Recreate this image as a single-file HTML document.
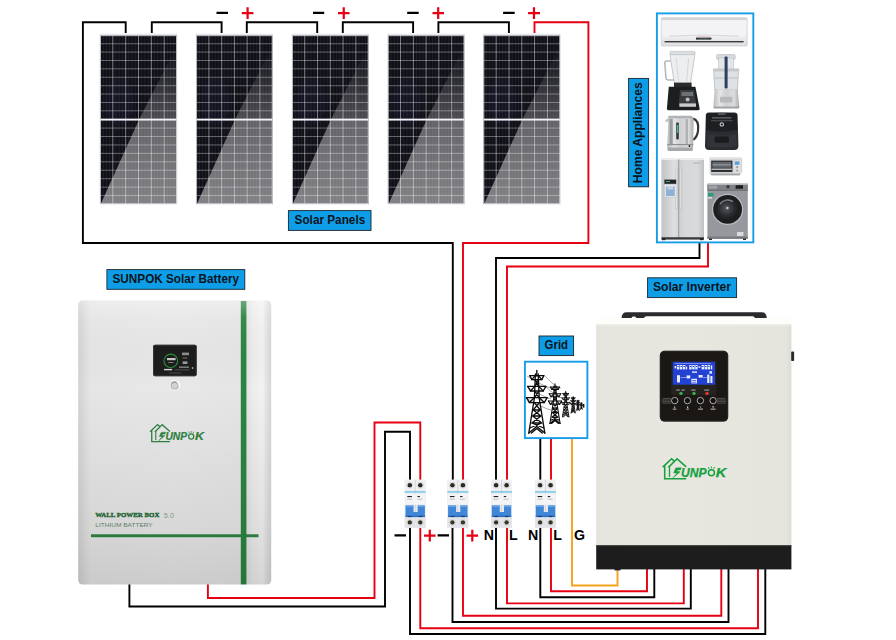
<!DOCTYPE html>
<html>
<head>
<meta charset="utf-8">
<title>Solar System Wiring Diagram</title>
<style>
html,body{margin:0;padding:0;background:#fff;}
body{width:896px;height:640px;overflow:hidden;font-family:"Liberation Sans",sans-serif;}
svg{display:block;}
text{font-family:"Liberation Sans",sans-serif;}
.lbl{font-weight:bold;font-size:12.5px;fill:#0a1420;}
.w{fill:none;stroke-width:1.9;stroke-linejoin:miter;stroke-linecap:butt;}
.bk{stroke:#000;}
.rd{stroke:#e60012;}
.og{stroke:#f5a21b;}
</style>
</head>
<body>
<svg width="896" height="640" viewBox="0 0 896 640">
<defs>
  <linearGradient id="pgUp" x1="0" y1="14" x2="0" y2="83.4" gradientUnits="userSpaceOnUse">
    <stop offset="0" stop-color="#fff" stop-opacity="0.0"/>
    <stop offset="1" stop-color="#fff" stop-opacity="0.25"/>
  </linearGradient>
  <linearGradient id="pgLo" x1="0" y1="83.4" x2="0" y2="167" gradientUnits="userSpaceOnUse">
    <stop offset="0" stop-color="#fff" stop-opacity="0.34"/>
    <stop offset="1" stop-color="#fff" stop-opacity="0.47"/>
  </linearGradient>
  <symbol id="panel" viewBox="0 0 77 168" width="77" height="168" preserveAspectRatio="none">
    <rect x="0" y="0" width="77" height="168" fill="#101018"/>
    <ellipse cx="19" cy="66" rx="15" ry="24" fill="#26265a" opacity="0.16"/>
    <polygon points="77,10 39,84 77,84" fill="url(#pgUp)"/>
    <polygon points="39,84 1.2,167 77,167 77,84" fill="url(#pgLo)"/>
    <g stroke="#fff" stroke-opacity="0.16" stroke-width="0.4">
      <path d="M3.2,0V168M6.4,0V168M9.6,0V168M16,0V168M19.2,0V168M22.4,0V168M28.9,0V168M32.1,0V168M35.3,0V168M41.7,0V168M44.9,0V168M48.1,0V168M54.5,0V168M57.7,0V168M60.9,0V168M67.4,0V168M70.6,0V168M73.8,0V168"/>
    </g>
    <g stroke="#fff" stroke-opacity="0.62" stroke-width="0.75">
      <path d="M12.8,0V168M25.7,0V168M38.5,0V168M51.3,0V168M64.2,0V168"/>
    </g>
    <g stroke="#fff" stroke-opacity="0.5" stroke-width="0.7">
      <path d="M0,8.4H77M0,16.7H77M0,25.1H77M0,33.4H77M0,41.8H77M0,50.2H77M0,58.5H77M0,66.9H77M0,75.2H77"/>
      <path d="M0,92.4H77M0,100.8H77M0,109.2H77M0,117.6H77M0,126H77M0,134.4H77M0,142.8H77M0,151.2H77M0,159.6H77"/>
    </g>
    <rect x="0" y="83" width="77" height="1.9" fill="#f4f4f8"/>
    <rect x="0.4" y="0.4" width="76.2" height="167.2" fill="none" stroke="#dcdce4" stroke-width="0.9"/>
  </symbol>

  <linearGradient id="batBody" x1="0" y1="0" x2="1" y2="0">
    <stop offset="0" stop-color="#d2d2d2"/>
    <stop offset="0.03" stop-color="#dcdcdc"/>
    <stop offset="0.065" stop-color="#e6e6e6"/>
    <stop offset="0.5" stop-color="#e8e8e8"/>
    <stop offset="0.83" stop-color="#e6e6e6"/>
    <stop offset="0.875" stop-color="#e2e2e2"/>
    <stop offset="0.905" stop-color="#ededed"/>
    <stop offset="0.955" stop-color="#f2f2f2"/>
    <stop offset="0.975" stop-color="#e4e4e4"/>
    <stop offset="1" stop-color="#d6d6d6"/>
  </linearGradient>
  <linearGradient id="batShade" x1="0" y1="0" x2="0" y2="1">
    <stop offset="0" stop-color="#fff" stop-opacity="0.3"/>
    <stop offset="0.06" stop-color="#fff" stop-opacity="0.05"/>
    <stop offset="0.3" stop-color="#000" stop-opacity="0"/>
    <stop offset="0.8" stop-color="#000" stop-opacity="0.07"/>
    <stop offset="1" stop-color="#000" stop-opacity="0.12"/>
  </linearGradient>
  <!-- SUNPOK logo, native size 65 x 22 -->
  <symbol id="logo" viewBox="0 0 65 22" width="65" height="22" overflow="visible">
    <g fill="none" stroke="currentColor" stroke-width="1.55" stroke-linejoin="miter" stroke-linecap="butt">
      <path d="M0.5,9.3 L9.4,0.9 L12.2,3.6"/>
      <path d="M2.5,7.6 V21 H24"/>
      <path d="M6.2,9.6 L14.9,1 L24,9"/>
      <path d="M7.3,8.8 V19.2" stroke-width="1.3"/>
    </g>
    <path fill="currentColor" stroke="currentColor" stroke-width="0.55" stroke-linejoin="miter" d="M19,9.9 L13.6,10.2 L11.5,15 L14.9,15.4 L10.8,20 L18,14 L14.4,13.5 L15.5,12.1 L18.3,12.1 Z"/>
    <text x="18.7" y="18.9" font-size="12.4" font-weight="bold" font-style="italic" fill="currentColor" stroke="currentColor" stroke-width="0.25" textLength="25.6" lengthAdjust="spacingAndGlyphs">UNP</text>
    <circle cx="49.2" cy="15" r="3" fill="none" stroke="currentColor" stroke-width="1.5"/>
    <path d="M46.9,11.2L46.2,9.2M49.2,10.7V8.6M51.5,11.2L52.3,9.2" stroke="currentColor" stroke-width="0.9" fill="none"/>
    <text x="53.6" y="18.9" font-size="12.4" font-weight="bold" font-style="italic" fill="currentColor" stroke="currentColor" stroke-width="0.25" textLength="10.6" lengthAdjust="spacingAndGlyphs">K</text>
  </symbol>
  <!-- breaker 21 x 48 -->
  <symbol id="brk" viewBox="0 0 21 48" width="21" height="48" overflow="visible">
    <rect x="0" y="0" width="21" height="48" rx="1" fill="#e9eaee"/>
    <rect x="0" y="0" width="21" height="11" fill="#f1f1f3"/>
    <rect x="10.1" y="0" width="0.8" height="48" fill="#cfd0d6"/>
    <rect x="0" y="11.5" width="21" height="1.25" fill="#62c2ec"/>
    <rect x="0.6" y="13.8" width="19.8" height="11" fill="#f4f4f6"/>
    <rect x="2.6" y="16.2" width="4.6" height="1.1" fill="#222"/>
    <rect x="12.8" y="16.2" width="2.4" height="1.1" fill="#222"/>
    <rect x="2.4" y="19" width="5" height="0.7" fill="#9aa"/>
    <rect x="12.6" y="19" width="5" height="0.7" fill="#9aa"/>
    <path d="M0.8,25.8 H8.8 V32.2 H13 V25.8 H20.2 V37.4 H0.8 Z" fill="#4187d8"/>
    <path d="M0.8,25.8 H8.8 V27.2 H0.8 Z M13,25.8 H20.2 V27.2 H13 Z" fill="#62a2e8"/>
    <rect x="0.8" y="35.6" width="19.4" height="1.8" fill="#2f6fc4"/><rect x="3.4" y="36.4" width="3.4" height="1" fill="#1c2a44"/><rect x="14" y="36.4" width="3.4" height="1" fill="#1c2a44"/>
    <rect x="0" y="37.6" width="21" height="10.4" fill="#e4e5e9"/>
    <circle cx="5.1" cy="5.4" r="2.3" fill="#2b2a1c"/>
    <circle cx="15.6" cy="5.4" r="2.3" fill="#2b2a1c"/>
    <circle cx="5.1" cy="42.6" r="2.2" fill="#3a3620"/>
    <circle cx="15.6" cy="42.6" r="2.2" fill="#3a3620"/>
    <circle cx="5.1" cy="5.4" r="3.1" fill="none" stroke="#c9cad0" stroke-width="0.6"/>
    <circle cx="15.6" cy="5.4" r="3.1" fill="none" stroke="#c9cad0" stroke-width="0.6"/>
    <circle cx="5.1" cy="42.6" r="3" fill="none" stroke="#c9cad0" stroke-width="0.6"/>
    <circle cx="15.6" cy="42.6" r="3" fill="none" stroke="#c9cad0" stroke-width="0.6"/>
  </symbol>

  <linearGradient id="invBody" x1="0" y1="0" x2="1" y2="0">
    <stop offset="0" stop-color="#e2e2da"/>
    <stop offset="0.03" stop-color="#e6e6df"/>
    <stop offset="0.5" stop-color="#e7e7e0"/>
    <stop offset="0.97" stop-color="#e5e5dd"/>
    <stop offset="1" stop-color="#dcdcd4"/>
  </linearGradient>
  <!-- pylon, native 18 wide x 64 tall, origin top-centre at x=9 -->
  <symbol id="pyl" viewBox="0 0 22 64" width="22" height="64" overflow="visible">
    <g fill="none" stroke="#0c0c0c" stroke-linecap="round" stroke-linejoin="round">
      <path d="M11,0.5V6"/>
      <path d="M9.6,4 L8.6,28 L3,63 M12.4,4 L13.4,28 L19,63"/>
      <path d="M4,5.6 H18 M2,16.4 H20 M0.6,27.6 H21.4"/>
      <path d="M4,5.6 L6,9.6 H16 L18,5.6 M2,16.4 L4.6,21 H17.4 L20,16.4 M0.6,27.6 L3.6,32.6 H18.4 L21.4,27.6"/>
      <path d="M6,9.6 L9.4,5.6 M16,9.6 L12.6,5.6 M4.6,21 L9,16.4 M17.4,21 L13,16.4 M3.6,32.6 L8.6,27.6 M18.4,32.6 L13.4,27.6"/>
      <path d="M9.4,9.6 L12.8,16.4 M12.6,9.6 L9.2,16.4 M9,21 L13.2,27.6 M13,21 L8.8,27.6"/>
      <path d="M8.4,32.6 L14.6,40 L6.8,46 L16,53 L4,58 M13.6,32.6 L7.4,40 L15.2,46 L6,53 L18,58 M7.4,40 H14.6 M6.8,46 H15.2 M6,53 H16"/>
      <path d="M3,63 L11,56.4 L19,63 M5.6,63 L11,58.6 L16.4,63"/>
    </g>
  </symbol>

  <linearGradient id="steelV" x1="0" y1="0" x2="1" y2="0">
    <stop offset="0" stop-color="#b9bbbd"/>
    <stop offset="0.25" stop-color="#e4e5e6"/>
    <stop offset="0.5" stop-color="#cfd0d2"/>
    <stop offset="0.8" stop-color="#dcdddf"/>
    <stop offset="1" stop-color="#a9abad"/>
  </linearGradient>
  <linearGradient id="fridgeG" x1="0" y1="0" x2="1" y2="0">
    <stop offset="0" stop-color="#c2c3c5"/>
    <stop offset="0.3" stop-color="#dedfe0"/>
    <stop offset="0.46" stop-color="#d0d1d3"/>
    <stop offset="0.54" stop-color="#d6d7d9"/>
    <stop offset="0.85" stop-color="#d9dadb"/>
    <stop offset="1" stop-color="#bfc0c2"/>
  </linearGradient>
  <linearGradient id="acG" x1="0" y1="0" x2="0" y2="1">
    <stop offset="0" stop-color="#e9e9ec"/>
    <stop offset="0.15" stop-color="#f4f4f6"/>
    <stop offset="0.7" stop-color="#ededf0"/>
    <stop offset="1" stop-color="#d8d8dc"/>
  </linearGradient>
  <radialGradient id="drumG" cx="0.45" cy="0.45" r="0.6">
    <stop offset="0" stop-color="#55575c"/>
    <stop offset="0.6" stop-color="#2a2b2f"/>
    <stop offset="1" stop-color="#17181a"/>
  </radialGradient>
</defs>

<!-- ============ WIRES ============ -->
<g id="wires">
  <!-- panel string -->
  <path class="w bk" d="M125.7,33V22.2H82.9V243H452.8V481"/>
  <path class="w bk" d="M151.8,33V22.2H221.6V33"/>
  <path class="w bk" d="M246.8,33V22.2H317.2V33"/>
  <path class="w bk" d="M342.8,33V22.2H413.1V33"/>
  <path class="w bk" d="M438.4,33V22.2H508.9V33"/>
  <path class="w rd" d="M534.5,33V22.2H588.4V243H463V481"/>
  <!-- appliances -->
  <path class="w bk" d="M699.5,243V258H496V481"/>
  <path class="w rd" d="M708,243V266.5H507V481"/>
  <!-- grid -->
  <path class="w bk" d="M540.3,439V481"/>
  <path class="w rd" d="M551,439V481"/>
  <path class="w og" d="M572,439V585.5H617.5V568"/>
  <!-- battery -->
  <path class="w bk" d="M129.4,584V606.5H385V431.7H410V481"/>
  <path class="w rd" d="M207.9,584V598H374.5V422.5H420.3V481"/>
  <!-- breakers to inverter -->
  <path class="w bk" d="M410,527V634H765.3V568"/>
  <path class="w rd" d="M420.3,527V628.2H758V568"/>
  <path class="w bk" d="M452.5,527V622H728.5V568"/>
  <path class="w rd" d="M463,527V615.7H721.3V568"/>
  <path class="w bk" d="M496,527V608.6H690.8V568"/>
  <path class="w rd" d="M507,527V603.4H683.8V568"/>
  <path class="w bk" d="M540.3,527V597.2H654.3V568"/>
  <path class="w rd" d="M551,527V591.3H647V568"/>
</g>

<!-- ============ PANELS ============ -->
<g id="panels">
  <g fill="#e9e9ee">
    <rect x="99.6" y="33.6" width="77.8" height="171" /><rect x="195.8" y="33.6" width="77.2" height="171"/><rect x="291.6" y="33.6" width="77.4" height="171"/><rect x="387.4" y="33.6" width="77.4" height="171"/><rect x="483" y="33.6" width="77.6" height="171"/>
  </g>
  <use href="#panel" x="100" y="35.3" width="77" height="168.7"/>
  <use href="#panel" x="196.2" y="35.3" width="76.4" height="168.7"/>
  <use href="#panel" x="292" y="35.3" width="76.6" height="168.7"/>
  <use href="#panel" x="387.8" y="35.3" width="76.6" height="168.7"/>
  <use href="#panel" x="483.4" y="35.3" width="76.8" height="168.7"/>
</g>


<!-- ============ LABELS ============ -->
<g id="labels">
  <rect x="288.4" y="210.6" width="82.6" height="19.8" fill="#0e9ee7" stroke="#1a2430" stroke-width="0.9"/>
  <text class="lbl" x="329.9" y="224.2" text-anchor="middle" textLength="70.6" lengthAdjust="spacingAndGlyphs">Solar Panels</text>

  <rect x="106.9" y="269.6" width="137.9" height="19.7" fill="#0e9ee7" stroke="#1a2430" stroke-width="0.9"/>
  <text class="lbl" x="175.8" y="282.8" text-anchor="middle" textLength="126.5" lengthAdjust="spacingAndGlyphs">SUNPOK Solar Battery</text>

  <rect x="647.6" y="277.8" width="89" height="19.8" fill="#0e9ee7" stroke="#1a2430" stroke-width="0.9"/>
  <text class="lbl" x="692" y="290.7" text-anchor="middle" textLength="78.2" lengthAdjust="spacingAndGlyphs">Solar Inverter</text>

  <rect x="539" y="336" width="34.6" height="19.6" fill="#0e9ee7" stroke="#1a2430" stroke-width="0.9"/>
  <text class="lbl" x="556.3" y="349.1" text-anchor="middle" textLength="23.5" lengthAdjust="spacingAndGlyphs">Grid</text>

  <rect x="628.6" y="78.4" width="20" height="108.4" fill="#0e9ee7" stroke="#1a2430" stroke-width="0.9"/>
  <text class="lbl" transform="translate(642.4,132.7) rotate(-90)" text-anchor="middle" textLength="101" lengthAdjust="spacingAndGlyphs">Home Appliances</text>
</g>

<!-- ============ PLUS / MINUS ============ -->
<g id="signs" stroke-width="2.2" fill="none">
  <g stroke="#000">
    <path d="M216.5,12.8H228M313,12.8H324.2M407.2,12.8H418.7M503.1,12.8H514.7"/>
    <path d="M394.5,535.4H406M437.6,535.4H449"/>
  </g>
  <g stroke="#e60012">
    <path d="M241.8,13.1H253.4M247.6,7.2V18.9"/>
    <path d="M338,13.1H349.5M343.75,7.2V18.9"/>
    <path d="M432.5,13.1H444M438.2,7.2V18.9"/>
    <path d="M528.1,13.1H540M534,7.2V18.9"/>
    <path d="M424,535.6H435.6M429.8,529.8V541.5"/>
    <path d="M466.5,535.6H478.1M472.3,529.8V541.5"/>
  </g>
</g>
<g id="nlg" font-weight="bold" font-size="14.2px" fill="#000">
  <text x="483.8" y="539.9">N</text>
  <text x="509.1" y="539.9">L</text>
  <text x="528.1" y="539.9">N</text>
  <text x="553.2" y="539.9">L</text>
  <text x="574" y="539.9">G</text>
</g>


<!-- ============ BATTERY ============ -->
<g id="battery">
  <rect x="78.2" y="300.5" width="193" height="284" rx="4.5" fill="url(#batBody)"/>
  <rect x="240.8" y="301" width="5.6" height="283.4" fill="#2c8441"/>
  <rect x="91" y="534.3" width="167.5" height="2.9" fill="#2c8441"/>
  <rect x="78.2" y="300.5" width="193" height="284" rx="4.5" fill="url(#batShade)"/>
  <!-- screen -->
  <rect x="153.1" y="344.8" width="43.6" height="31.4" rx="1.8" fill="#1d1d1e"/>
  <rect x="153.6" y="345.3" width="42.6" height="30.4" rx="1.5" fill="none" stroke="#3b3b3d" stroke-width="0.8"/>
  <circle cx="170.8" cy="360.9" r="6.8" fill="none" stroke="#2b8a3b" stroke-width="1.1"/>
  <rect x="167" y="358" width="8.6" height="2.2" fill="#c6c6c6"/>
  <rect x="168.4" y="362" width="5" height="0.9" fill="#8a8a8a"/>
  <rect x="164" y="368.9" width="8.2" height="1.4" fill="#d2d2d2"/>
  <rect x="182" y="352.6" width="7" height="2.6" fill="#8c8c8c"/>
  <rect x="182.6" y="357.4" width="4.6" height="1.2" fill="#666"/>
  <rect x="182.6" y="361.4" width="4.8" height="2.6" fill="#9a9a9a"/>
  <rect x="179" y="366.4" width="10" height="1.6" fill="#777"/>
  <rect x="175" y="369.4" width="14.4" height="0.9" fill="#555"/>
  <circle cx="192.6" cy="368" r="0.9" fill="#aaa"/>
  <rect x="169" y="372.6" width="12" height="0.8" fill="#555"/>
  <!-- button -->
  <circle cx="175" cy="385.1" r="5.2" fill="#fcfcfc"/>
  <circle cx="174.7" cy="385.4" r="4.1" fill="#ababab"/>
  <circle cx="174.6" cy="385.5" r="3.1" fill="#d2d2d2"/>
  <path d="M172.3,383.3 A3.4,3.4 0 0 1 177.2,383" stroke="#858585" stroke-width="0.7" fill="none"/>
  <path d="M176.6,381.4 A4.4,4.4 0 0 1 179.2,386.4" stroke="#fff" stroke-width="1.4" fill="none"/>
  <!-- logo -->
  <use href="#logo" x="149.6" y="423.8" width="55" height="18.6" color="#2e7f40"/>
  <!-- text -->
  <text x="95.2" y="517.4" font-weight="bold" font-size="6.3" fill="#1d6431" stroke="#1d6431" stroke-width="0.35" textLength="64.2" lengthAdjust="spacingAndGlyphs" style="font-family:'Liberation Serif',serif">WALL POWER BOX</text>
  <text x="163.8" y="517.5" font-size="6.6" fill="#7d9c88" textLength="10.2" lengthAdjust="spacingAndGlyphs">5.0</text>
  <text x="95.3" y="526.8" font-size="5.8" fill="#5f8069" textLength="57.4" lengthAdjust="spacingAndGlyphs">LITHIUM BATTERY</text>
</g>

<!-- ============ BREAKERS ============ -->
<g id="breakers">
  <use href="#brk" x="404.7" y="479.8"/>
  <use href="#brk" x="447.3" y="479.8"/>
  <use href="#brk" x="491" y="479.8"/>
  <use href="#brk" x="535" y="479.8"/>
</g>


<!-- ============ INVERTER ============ -->
<g id="inverter">
  <!-- top bracket -->
  <rect x="596.2" y="318" width="195.2" height="7" fill="#fdfdfa"/>
  <path d="M621.6,318 Q621.8,312.3 626.6,312.3 H762 Q766.4,312.3 766.8,318 H755 Q754.6,316.4 752.4,316.3 H646.4 Q644.4,316.4 644,318 H636.4 Q636,316.4 634.6,316.4 H633 Q631.8,316.4 631.6,318 Z" fill="#2b2b2d"/>
  <rect x="596.2" y="324.4" width="195.2" height="222" fill="url(#invBody)"/>
  <rect x="596.2" y="324.4" width="195.2" height="1.2" fill="#efefe9"/>
  <!-- side tab -->
  <rect x="791.2" y="351.4" width="2.9" height="9.6" rx="0.8" fill="#2a2a2a"/>
  <!-- base -->
  <rect x="596.2" y="545.4" width="195.2" height="24" fill="#1d1d1d"/>
  <rect x="596.2" y="545.4" width="195.2" height="1" fill="#2e2e2e"/>
  <rect x="614.5" y="569" width="6" height="1.4" fill="#1d1d1d"/>
  <!-- display -->
  <rect x="659.8" y="350.8" width="68.4" height="70.8" rx="4.6" fill="#1b1715"/>
  <rect x="660.4" y="351.4" width="67.2" height="69.6" rx="4.2" fill="none" stroke="#2c2826" stroke-width="0.8"/>
  <rect x="671.2" y="360.4" width="45.2" height="34.8" rx="1.2" fill="#262220"/>
  <rect x="672.8" y="361.9" width="42.2" height="22.8" fill="#2342d3"/>
  <g fill="#e9eefc">
    <rect x="674.6" y="366" width="1.6" height="2.4"/>
    <rect x="677" y="365" width="2.4" height="4.4"/><rect x="680" y="365" width="2.4" height="4.4"/><rect x="683" y="365" width="2.4" height="4.4"/><rect x="686" y="366.6" width="1.2" height="2.8"/>
    <rect x="689.2" y="365" width="2.4" height="4.4"/><rect x="692.2" y="365" width="2.4" height="4.4"/><rect x="695.2" y="365" width="2.4" height="4.4"/><rect x="698.4" y="366.4" width="2" height="1.4"/>
    <rect x="701.6" y="365" width="2.4" height="4.4"/><rect x="704.6" y="365" width="2.4" height="4.4"/><rect x="707.6" y="365" width="2.4" height="4.4"/><rect x="710.8" y="365.4" width="1.4" height="4"/>
    <rect x="675" y="363" width="36" height="0.6" opacity="0.7"/>
    <rect x="692" y="371.4" width="5" height="1.4"/>
    <rect x="709.4" y="371.2" width="2.6" height="2.4"/>
    <rect x="677" y="375.2" width="3" height="7.2"/>
    <rect x="686.6" y="375.4" width="3.6" height="3"/>
    <rect x="691.4" y="378.8" width="5.6" height="4.6"/>
    <rect x="698.6" y="375" width="4" height="2.6"/>
    <rect x="707.2" y="374.6" width="2.2" height="8.4"/><rect x="710.4" y="376" width="2" height="7"/>
    <rect x="680.6" y="377" width="6" height="0.6" opacity="0.8"/><rect x="703" y="377" width="4" height="0.6" opacity="0.8"/>
  </g>
  <g fill="#2342d3">
    <rect x="677.5" y="366" width="1.4" height="1"/><rect x="680.5" y="366" width="1.4" height="1"/><rect x="683.5" y="366" width="1.4" height="1"/>
    <rect x="689.7" y="366" width="1.4" height="1"/><rect x="692.7" y="366" width="1.4" height="1"/><rect x="695.7" y="366" width="1.4" height="1"/>
    <rect x="702.1" y="366" width="1.4" height="1"/><rect x="705.1" y="366" width="1.4" height="1"/><rect x="708.1" y="366" width="1.4" height="1"/>
    <rect x="692.2" y="380.2" width="4" height="0.7"/><rect x="692.2" y="381.8" width="4" height="0.7"/>
  </g>
  <!-- led labels -->
  <g fill="#b8b8b8">
    <rect x="676.2" y="389.6" width="3.6" height="0.9"/><rect x="681.4" y="389.6" width="3.4" height="0.9"/>
    <rect x="691.2" y="389.6" width="4.4" height="0.9"/>
    <rect x="704.2" y="389.6" width="5" height="0.9"/>
  </g>
  <circle cx="681" cy="393.4" r="1.7" fill="#35b04a"/>
  <circle cx="694" cy="393.4" r="1.7" fill="#35b04a"/>
  <circle cx="707" cy="393.4" r="1.7" fill="#e23a2e"/>
  <!-- streaks -->
  <g stroke="#8d8a88" stroke-width="0.6" opacity="0.8">
    <path d="M662.6,398.4H671M662,400H671M661.6,401.6H671M662.4,403.2H671"/>
    <path d="M717,398.4H725.4M717,400H726M717,401.6H726.4M717,403.2H725.6"/>
  </g>
  <g fill="#15110f" stroke="#cfcfcf" stroke-width="0.8">
    <circle cx="674.7" cy="400.6" r="3.2"/>
    <circle cx="687.5" cy="400.6" r="3.2"/>
    <circle cx="700.4" cy="400.6" r="3.2"/>
    <circle cx="713.1" cy="400.6" r="3.2"/>
  </g>
  <g fill="#c4c4c4">
    <rect x="674.2" y="406.4" width="1" height="1.6"/><rect x="672.8" y="408.6" width="3.6" height="1"/>
    <rect x="687" y="406.4" width="1.2" height="1.6"/><rect x="686.4" y="408.6" width="2.4" height="1"/>
    <rect x="700" y="406.4" width="0.9" height="1.2"/><rect x="698" y="408.6" width="5" height="1"/>
    <rect x="712" y="406.4" width="2.2" height="1"/><rect x="710.6" y="408.6" width="5" height="1"/>
  </g>
  <!-- logo -->
  <use href="#logo" x="662.2" y="457.8" width="65" height="22" color="#17a03e"/>
</g>

<!-- ============ GRID ============ -->
<g id="grid">
  <rect x="524.9" y="361.7" width="62.5" height="76.4" fill="#fff" stroke="#159de8" stroke-width="1.9"/>
  <g stroke="#222" stroke-width="0.5" fill="none" opacity="0.8">
    <path d="M527,376 Q546,388 552,388 M527,387 Q546,398 551,399 M526,398 Q545,409 551,410"/>
    <path d="M545,376 Q556,388 561,388 M546,387 Q557,397 562,398"/>
  </g>
  <use href="#pyl" x="525.8" y="370" width="22" height="64" stroke-width="1.35"/>
  <use href="#pyl" x="548" y="383.4" width="14" height="40.7" stroke-width="1.7"/>
  <use href="#pyl" x="561.2" y="391.2" width="9" height="26" stroke-width="2.2"/>
  <use href="#pyl" x="570.2" y="396.4" width="6" height="16.6" stroke-width="3"/>
  <use href="#pyl" x="576" y="400" width="4" height="10.4" stroke-width="4"/>
  <use href="#pyl" x="580" y="402.6" width="2.8" height="6.6" stroke-width="5"/>
  <rect x="583" y="404" width="1.4" height="3.6" fill="#111"/>
</g>


<!-- ============ HOME APPLIANCES ============ -->
<g id="appliances">
  <rect x="656.9" y="13.4" width="96.4" height="229" fill="#fff" stroke="#159de8" stroke-width="1.9"/>
  <!-- air conditioner -->
  <g>
    <rect x="661.2" y="17.8" width="86" height="28.2" rx="1.6" fill="url(#acG)"/>
    <rect x="661.2" y="17.8" width="86" height="2.2" rx="1" fill="#d6d6da"/>
    <rect x="662.4" y="20.2" width="83.6" height="16" fill="#f3f3f5"/>
    <path d="M669,36.2 Q704,33.8 739,36.2" stroke="#c9c9ce" stroke-width="0.7" fill="none"/>
    <rect x="696" y="37.6" width="15.4" height="2" fill="#2b2f33"/>
    <rect x="699" y="38.2" width="9" height="0.6" fill="#3a6f66"/><rect x="697" y="36.6" width="13" height="0.5" fill="#e4a0a0"/>
    <rect x="664.6" y="41" width="79" height="1.5" fill="#3a3b3e"/>
    <rect x="663" y="42.8" width="82.4" height="2.8" fill="#e3e3e7"/>
    <rect x="661.2" y="17.8" width="86" height="28.2" rx="1.6" fill="none" stroke="#c4c4ca" stroke-width="0.6"/>
  </g>
  <!-- blender -->
  <g>
    <path d="M670.6,52.6 H694 L694.8,55.4 L690.4,84 H674.4 L670.2,56 Z" fill="#eceeef" stroke="#b3b7bb" stroke-width="0.7"/>
    <rect x="669.8" y="51.4" width="25.4" height="3.2" rx="1.4" fill="#dcdfe1" stroke="#a9adb1" stroke-width="0.5"/>
    <path d="M670.6,61 H666.6 Q664.6,61 664.8,63 L666,78 Q666.2,80 668.4,80 H674" fill="none" stroke="#b4b8bc" stroke-width="1.6"/>
    <path d="M676,58 L678.6,82 M688.6,58 L686.6,82" stroke="#c5c8cb" stroke-width="0.6" fill="none"/>
    <rect x="674" y="82.6" width="17.6" height="4.6" fill="#2a2b2d"/>
    <path d="M668.8,86.8 H695.4 L699.6,108.6 Q699.8,110.2 698.2,110.2 H668.4 Q666.8,110.2 666.9,108.6 Z" fill="#1d1e20"/>
    <path d="M680,90 H694 L696.4,106 H678.6 Z" fill="#3a3b3e"/>
    <rect x="681.6" y="92" width="11.6" height="4" fill="#6d7074"/>
    <circle cx="687.6" cy="99.6" r="2" fill="#b9bcc0"/>
    <rect x="679.4" y="103.4" width="16.6" height="3.4" fill="#c8cacd"/>
  </g>
  <!-- food processor -->
  <g>
    <rect x="716.6" y="54.6" width="18.6" height="4.8" rx="1" fill="#d9dcde" stroke="#a9adb1" stroke-width="0.5"/>
    <rect x="718.4" y="58" width="15" height="12" fill="#e3e6e8" stroke="#b2b6ba" stroke-width="0.5"/>
    <path d="M713.6,69.4 H738.6 L737.4,90 H714.8 Z" fill="#dfe2e4" stroke="#a4a8ac" stroke-width="0.6"/>
    <rect x="713" y="68.4" width="26.2" height="3" rx="1" fill="#c5c9cc"/>
    <path d="M714.6,78 H737.8" stroke="#b4b8bb" stroke-width="0.8"/>
    <rect x="724.6" y="56.6" width="3" height="32" rx="1" fill="#2e3f5e"/>
    <path d="M714.6,89.6 H737.8 L739.2,106.6 Q739.2,108.4 737.4,108.4 H715.2 Q713.4,108.4 713.4,106.6 Z" fill="url(#steelV)"/>
    <rect x="720" y="96.8" width="12.4" height="5.6" rx="0.8" fill="#b8babd"/>
    <rect x="713.6" y="106.6" width="25.6" height="1.8" fill="#9fa2a5"/>
  </g>
  <!-- kettle -->
  <g>
    <path d="M692.6,118.6 Q699.4,119.8 698,131 Q697.2,136.6 693.8,139.4" fill="none" stroke="#3a3431" stroke-width="2.1" stroke-linecap="round"/>
    <path d="M669,117.2 L664.6,121 L668.6,122.6 Z" fill="#c2c5c8"/>
    <path d="M668.6,116.6 H691 L693.6,118.6 L693.2,146 Q693.2,151 688,151 H672 Q667,151 667.2,146 Z" fill="url(#steelV)"/>
    <rect x="668.4" y="115.8" width="23.6" height="2.4" rx="1" fill="#b0b3b6"/>
    <rect x="669.6" y="119" width="3.2" height="25" fill="#6d7073" opacity="0.55"/><rect x="685.6" y="119" width="2.4" height="25" fill="#85888b" opacity="0.5"/><rect x="676.2" y="122.6" width="2.6" height="17" rx="1" fill="#2b3a36"/>
    <rect x="676.8" y="125" width="1.4" height="8" fill="#4fb39a"/>
    <rect x="667.2" y="144" width="26" height="1.2" fill="#8e9194"/>
    <rect x="667.4" y="147.6" width="25.6" height="3.4" rx="1.4" fill="#a6a9ac"/>
    <circle cx="689.4" cy="146" r="0.9" fill="#2a2a2a"/>
  </g>
  <!-- air fryer -->
  <g>
    <path d="M708.6,112.4 H734.6 Q737.4,112.4 737.6,115.4 L738.4,146 Q738.4,150 734.4,150 H709 Q705,150 705,146 L705.8,115.4 Q706,112.4 708.6,112.4 Z" fill="#2b2c30"/>
    <path d="M706.6,114 Q721.6,111.6 736.8,114 L737.4,130 Q721.6,133.4 706,130 Z" fill="#1e1f22"/>
    <rect x="712" y="117.4" width="19.4" height="1" fill="#8f9296" opacity="0.8"/>
    <rect x="711" y="120.4" width="21.6" height="0.8" fill="#7b7e82" opacity="0.7"/>
    <circle cx="721.8" cy="124.4" r="2.2" fill="#d3d5d8"/>
    <circle cx="721.8" cy="124.4" r="1.2" fill="#2a2a2c"/>
    <rect x="718" y="113.6" width="7.6" height="0.8" fill="#9a9da1"/>
    <path d="M707.4,134 Q721.6,137 736.4,134 V146.4 Q721.6,148.6 707.4,146.4 Z" fill="#33343a"/>
    <rect x="714.6" y="136.4" width="14.4" height="6.4" rx="1.4" fill="#1b1b1d"/>
  </g>
  <!-- fridge -->
  <g>
    <rect x="661.4" y="158.4" width="42.6" height="79" rx="1" fill="url(#fridgeG)"/>
    <rect x="661.4" y="158.4" width="42.6" height="1.6" fill="#ecedee"/>
    <rect x="678.3" y="159.4" width="0.9" height="78" fill="#8f9295"/>
    <rect x="675.9" y="168" width="1.5" height="41" rx="0.7" fill="#f4f4f5" stroke="#8f9295" stroke-width="0.35"/>
    <rect x="680.1" y="168" width="1.5" height="41" rx="0.7" fill="#f4f4f5" stroke="#8f9295" stroke-width="0.35"/>
    <rect x="664.4" y="179.6" width="11.8" height="4.2" fill="#1f2426"/>
    <rect x="666" y="181" width="4" height="0.8" fill="#5fd0a0"/>
    <rect x="664.4" y="184.6" width="11.8" height="12.4" rx="0.6" fill="#eef1f4" stroke="#a9adb1" stroke-width="0.4"/>
    <rect x="665.8" y="186.4" width="9" height="9.6" fill="#8fb1d6"/>
    <rect x="667.4" y="186.4" width="5.8" height="3" fill="#c9d4e0"/>
    <rect x="693" y="162.4" width="7" height="1.2" fill="#b4b7ba"/>
    <rect x="661.4" y="237.2" width="42.6" height="2.4" fill="#3a3b3d"/>
    <rect x="662" y="238.6" width="3.4" height="1.6" fill="#222"/>
    <rect x="700" y="238.6" width="3.4" height="1.6" fill="#222"/>
  </g>
  <!-- toaster oven -->
  <g>
    <path d="M709.6,158 H741 L742.2,159.6 V172 L739.4,175.6 H711.6 L709.6,173.4 Z" fill="#cfd1d4"/>
    <rect x="709.2" y="157.2" width="33" height="2" fill="#e2e3e5"/>
    <rect x="711.2" y="160.6" width="21.2" height="11.4" fill="#2c2e32"/>
    <rect x="712.4" y="161.8" width="18.8" height="6" fill="#63666c"/><rect x="712.4" y="164.6" width="18.8" height="0.6" fill="#c9cbcf"/>
    <rect x="711.6" y="168.6" width="20.4" height="1.2" fill="#d9dadc"/>
    <rect x="733.6" y="160.2" width="7.6" height="12.6" fill="#dfe0e2"/>
    <rect x="734.8" y="161.4" width="4.6" height="3.4" fill="#58a0d8"/>
    <circle cx="737.2" cy="167.2" r="1.1" fill="#9b9ea2"/><circle cx="737.2" cy="170.6" r="1.1" fill="#9b9ea2"/>
    <rect x="711" y="173.6" width="29" height="1.6" fill="#a4a6aa"/>
  </g>
  <!-- washing machine -->
  <g>
    <rect x="707.4" y="183.8" width="40.4" height="55" rx="0.8" fill="#96989d"/>
    <rect x="707.4" y="183.8" width="40.4" height="6" fill="#7f8186"/>
    <rect x="707.4" y="183.8" width="40.4" height="1.2" fill="#b6b8bc"/>
    <rect x="707.4" y="189.8" width="40.4" height="0.8" fill="#5c5e62"/>
    <rect x="708.6" y="185.6" width="8.4" height="3.2" fill="#9fa1a5"/>
    <circle cx="728" cy="186.8" r="1.7" fill="#3a3b3e"/>
    <rect x="735.6" y="185.2" width="7.4" height="3.6" fill="#1d1e20"/>
    <rect x="708" y="193" width="5.6" height="3.4" fill="#2f9a78"/>
    <rect x="708" y="197" width="4" height="1.6" fill="#d9dadc"/>
    <circle cx="727.6" cy="209.4" r="15.6" fill="#b9bbc0"/>
    <circle cx="727.6" cy="209.4" r="14.4" fill="#1c1d1f"/>
    <circle cx="727.6" cy="209.4" r="10.6" fill="url(#drumG)"/>
    <path d="M720,204 A9.4,9.4 0 0 1 733,201.6" stroke="#9a9ca1" stroke-width="1.4" fill="none" opacity="0.75"/>
    <circle cx="727.4" cy="208" r="1.2" fill="#c9cbd0"/>
    <rect x="737" y="232" width="6.4" height="4" fill="#dadbde"/>
    <rect x="707.4" y="236.6" width="40.4" height="2.2" fill="#77797e"/>
    <rect x="709" y="238.6" width="3" height="1.4" fill="#2a2a2c"/><rect x="743" y="238.6" width="3" height="1.4" fill="#2a2a2c"/>
  </g>
</g>




</svg>
</body>
</html>
